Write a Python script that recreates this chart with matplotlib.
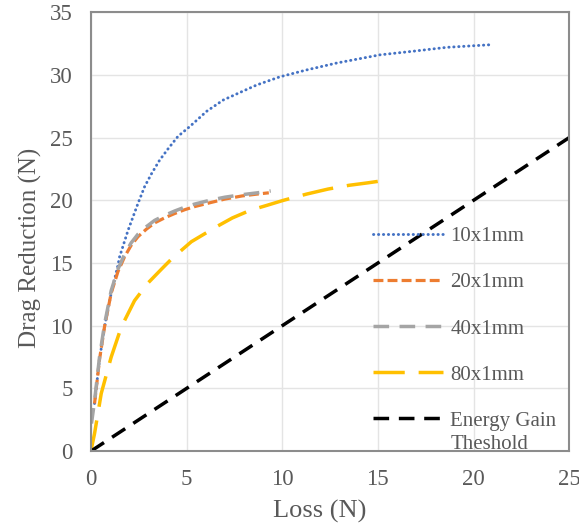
import matplotlib
matplotlib.use("Agg")
import matplotlib.pyplot as plt

# values (Loss, Drag Reduction) in N
loss_10 = [0.19, 0.45, 0.71, 1.06, 1.41, 1.5, 1.94, 2.46, 2.81, 3.16, 3.59, 4.03, 4.55,
           5.18, 6.05, 6.92, 7.79, 8.67, 9.88, 11.28, 12.85, 15.1, 16.9, 18.6, 20.8]
dr_10 = [3.8, 7.3, 9.9, 12.6, 14.8, 15.5, 17.6, 19.75, 21.1, 22.1, 23.2, 24.1, 25.1,
         25.9, 27.1, 28.0, 28.6, 29.2, 29.85, 30.4, 30.95, 31.6, 31.9, 32.2, 32.4]

loss_20 = [0.19, 0.45, 0.71, 1.06, 1.41, 1.76, 2.1, 2.46, 2.9, 3.33, 3.85, 4.38, 4.9,
           5.42, 6.2, 7.0, 7.9, 8.7, 9.3]
dr_20 = [3.8, 7.3, 9.9, 12.6, 14.3, 15.5, 16.4, 17.1, 17.7, 18.2, 18.6, 18.95, 19.25,
         19.5, 19.8, 20.1, 20.35, 20.5, 20.6]

loss_40 = [0.03, 0.12, 0.19, 0.45, 0.71, 1.06, 1.41, 1.76, 2.1, 2.46, 2.9, 3.33, 3.85,
           4.38, 4.9, 5.42, 6.2, 7.0, 7.9, 8.7, 9.4]
dr_40 = [2.2, 3.2, 4.0, 7.5, 10.1, 12.8, 14.5, 15.7, 16.6, 17.3, 17.9, 18.4, 18.8,
         19.15, 19.45, 19.7, 20.0, 20.25, 20.45, 20.6, 20.75]

loss_80 = [0, 0.19, 0.54, 1.06, 1.59, 2.28, 2.98, 3.68, 4.2, 4.72, 5.25, 5.8, 6.57,
           7.4, 8.32, 9.2, 10.06, 11.28, 12.4, 13.5, 14.5, 15.4]
dr_80 = [0, 1.4, 4.6, 7.5, 9.9, 12.0, 13.4, 14.5, 15.3, 16.0, 16.7, 17.2, 17.9,
         18.6, 19.2, 19.6, 20.0, 20.5, 20.9, 21.2, 21.4, 21.6]

loss_eg = [0, 25]
dr_eg = [0, 25]

labels = ["10x1mm", "20x1mm", "40x1mm", "80x1mm", "Energy Gain"]
x_ticks = [0, 5, 10, 15, 20, 25]
y_ticks = [0, 5, 10, 15, 20, 25, 30, 35]

plt.rcParams["font.family"] = ["Liberation Serif", "DejaVu Serif"]
text_col = "#595959"

fig = plt.figure(figsize=(5.79, 5.32), dpi=100)
ax = fig.add_axes([0.157, 0.152, 0.826, 0.825])

ax.plot(loss_10, dr_10, color="#4472C4", lw=2.1, linestyle=(0, (0.1, 1.6)),
        dash_capstyle="round", label=labels[0])
ax.plot(loss_20, dr_20, color="#ED7D31", lw=2.3, linestyle=(0, (3.1, 1.3)), label=labels[1])
ax.plot(loss_40, dr_40, color="#A5A5A5", lw=2.5, linestyle=(0, (4.5, 3.0)), label=labels[2])
ax.plot(loss_80, dr_80, color="#FFC000", lw=2.5, linestyle=(0, (9.0, 4.0)), label=labels[3])
ax.plot(loss_eg, dr_eg, color="black", lw=2.5, linestyle=(0, (4.5, 2.8)), label=labels[4])

ax.set_xlim(0, 25)
ax.set_ylim(0, 35)
ax.set_xticks(x_ticks)
ax.set_yticks(y_ticks)
ax.grid(True, color="#e4e4e4", lw=1.0)
ax.set_axisbelow(True)
for s in ax.spines.values():
    s.set_color("#8c8c8c")
    s.set_linewidth(1.5)
ax.tick_params(length=0, labelsize=16.5, labelcolor=text_col, pad=13)

ax.set_xlabel("Loss (N)", fontsize=19, color=text_col)
ax.set_ylabel("Drag Reduction (N)", fontsize=18, color=text_col)
ax.xaxis.set_label_coords(0.479, -0.112)
ax.yaxis.set_label_coords(-0.1025, 0.462)

leg = ax.legend(loc="upper left", bbox_to_anchor=(0.59, 0.511), frameon=False,
                fontsize=15, handlelength=3.37, handletextpad=0.34, labelspacing=1.27,
                borderpad=0, borderaxespad=0)
for t in leg.get_texts():
    t.set_color(text_col)
# second line of the last legend label, aligned under "Energy Gain"
ax.annotate("Theshold", xy=(0, 0), xycoords=leg.get_texts()[-1], xytext=(0, -3.3),
            textcoords="offset points", va="top", ha="left", fontsize=15,
            color=text_col, zorder=10)

fig.savefig("out.png", dpi=100)
